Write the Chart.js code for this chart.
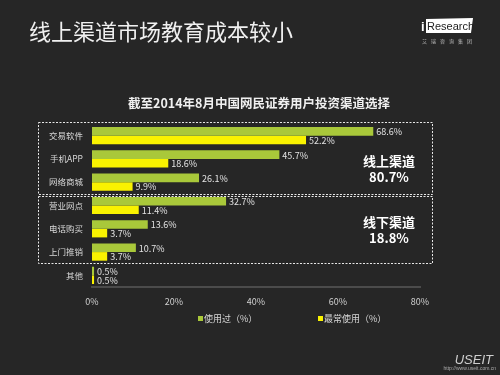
<!DOCTYPE html>
<html>
<head>
<meta charset="utf-8">
<script src="https://cdn.jsdelivr.net/npm/chart.js@4"></script>
<style>
  body { margin: 0; background: #262626; }
  canvas { display: block; }
</style>
</head>
<body>
<canvas id="chart" width="500" height="375"></canvas>
<script>
// data
const categories = ['交易软件', '手机APP', '网络商城', '营业网点', '电话购买', '上门推销', '其他'];
const usedValues = [68.6, 45.7, 26.1, 32.7, 13.6, 10.7, 0.5];
const mostUsedValues = [52.2, 18.6, 9.9, 11.4, 3.7, 3.7, 0.5];
const xTicks = [0, 20, 40, 60, 80];
const seriesNames = ['使用过（%）', '最常使用（%）'];
const groupNames = ['线上渠道', '线下渠道'];
const groupShares = ['80.7%', '18.8%'];
const groupRanges = [[0, 2], [3, 5]];

const pageTitle = '线上渠道市场教育成本较小';
const chartTitle = '截至2014年8月中国网民证券用户投资渠道选择';

const GREEN = '#a9c83a';
const YELLOW = '#f9f200';
const FONT = '"Noto Sans CJK SC", "Noto Sans", sans-serif';

// draws the value next to each bar
const valueLabels = {
    id: 'valueLabels',
    afterDatasetsDraw(chart) {
        const ctx = chart.ctx;
        ctx.save();
        ctx.font = '9px ' + FONT;
        ctx.fillStyle = '#e2e2e2';
        ctx.textBaseline = 'middle';
        chart.data.datasets.forEach((ds, i) => {
            chart.getDatasetMeta(i).data.forEach((bar, j) => {
                ctx.fillText(ds.data[j].toFixed(1) + '%', bar.x + 3, bar.y + 0.5);
            });
        });
        ctx.restore();
    }
};

// everything around the plot: titles, channel boxes, legend, logos
const decorations = {
    id: 'decorations',
    afterDraw(chart) {
        const ctx = chart.ctx;
        const yScale = chart.scales.y;
        const step = yScale.getPixelForValue(1) - yScale.getPixelForValue(0);
        ctx.save();

        // page title
        ctx.fillStyle = '#f0f0f0';
        ctx.font = '22px ' + FONT;
        ctx.textBaseline = 'middle';
        ctx.textAlign = 'left';
        ctx.fillText(pageTitle, 29, 32);

        // chart title
        ctx.font = 'bold 12.5px ' + FONT;
        ctx.textAlign = 'center';
        ctx.fillText(chartTitle, 259, 103);

        // dashed boxes for online / offline channels
        const boxDy = [[-2, 0], [2, -1]];
        const textDy = [11, 1];
        groupRanges.forEach((r, g) => {
            const top = yScale.getPixelForValue(r[0]) - step / 2 + boxDy[g][0];
            const bottom = yScale.getPixelForValue(r[1]) + step / 2 + boxDy[g][1];
            ctx.strokeStyle = '#e8e8e8';
            ctx.lineWidth = 1;
            ctx.setLineDash([2, 1.5]);
            ctx.strokeRect(38.5, Math.round(top) + 0.5, 394, Math.round(bottom - top));
            ctx.setLineDash([]);

            const mid = (top + bottom) / 2 + textDy[g];
            ctx.fillStyle = '#ffffff';
            ctx.font = 'bold 13px ' + FONT;
            ctx.textAlign = 'center';
            ctx.fillText(groupNames[g], 389, mid - 8);
            ctx.fillText(groupShares[g], 389, mid + 8);
        });

        // legend
        const legendX = [198, 318];
        [GREEN, YELLOW].forEach((c, i) => {
            ctx.fillStyle = c;
            ctx.fillRect(legendX[i], 316, 5, 5);
            ctx.fillStyle = '#d8d8d8';
            ctx.font = '9px ' + FONT;
            ctx.textAlign = 'left';
            ctx.fillText(seriesNames[i], legendX[i] + 6, 319);
        });

        // iResearch logo
        ctx.fillStyle = '#ffffff';
        ctx.beginPath();
        ctx.moveTo(426, 19);
        ctx.lineTo(473, 18);
        ctx.lineTo(471, 33);
        ctx.lineTo(426, 33);
        ctx.closePath();
        ctx.fill();
        ctx.font = 'bold 13px "Liberation Sans", sans-serif';
        ctx.fillText('i', 421, 27);
        ctx.fillStyle = '#222222';
        ctx.font = '11px "Liberation Sans Narrow", "Liberation Sans", sans-serif';
        ctx.fillText('Research', 427, 27);
        ctx.fillStyle = '#bbbbbb';
        ctx.font = '5px ' + FONT;
        const sub = '艾瑞咨询集团';
        for (let i = 0; i < sub.length; i++) {
            ctx.fillText(sub[i], 422 + i * 9, 41);
        }

        // USEIT footer
        ctx.fillStyle = '#cfcfcf';
        ctx.font = 'italic 13px "Liberation Sans", sans-serif';
        ctx.textAlign = 'right';
        ctx.fillText('USEIT', 493, 360);
        ctx.font = '5px "Liberation Sans", sans-serif';
        ctx.fillStyle = '#aaaaaa';
        ctx.fillText('http://www.useit.com.cn', 496, 369);

        ctx.restore();
    }
};

new Chart(document.getElementById('chart'), {
    type: 'bar',
    data: {
        labels: categories,
        datasets: [
            { label: seriesNames[0], data: usedValues, backgroundColor: GREEN },
            { label: seriesNames[1], data: mostUsedValues, backgroundColor: YELLOW }
        ]
    },
    options: {
        indexAxis: 'y',
        responsive: false,
        animation: false,
        layout: { padding: { left: 0, right: 80, top: 124, bottom: 58 } },
        datasets: { bar: { categoryPercentage: 0.74, barPercentage: 1 } },
        plugins: {
            legend: { display: false },
            title: { display: false },
            tooltip: { enabled: false }
        },
        scales: {
            x: {
                min: xTicks[0],
                max: xTicks[xTicks.length - 1],
                afterBuildTicks: (s) => { s.ticks = xTicks.map(v => ({ value: v })); },
                afterFit: (s) => { s.height = 30; },
                grid: { display: false },
                border: { color: '#4b4b4b', width: 2 },
                ticks: {
                    padding: 1,
                    color: '#d0d0d0',
                    font: { family: FONT, size: 9 },
                    callback: (v) => v + '%'
                }
            },
            y: {
                afterFit: (s) => { s.width = 92; },
                grid: { display: false },
                border: { display: false },
                ticks: {
                    padding: 1,
                    color: '#d8d8d8',
                    font: { family: FONT, size: 8.5 }
                }
            }
        }
    },
    plugins: [valueLabels, decorations]
});
</script>
</body>
</html>
